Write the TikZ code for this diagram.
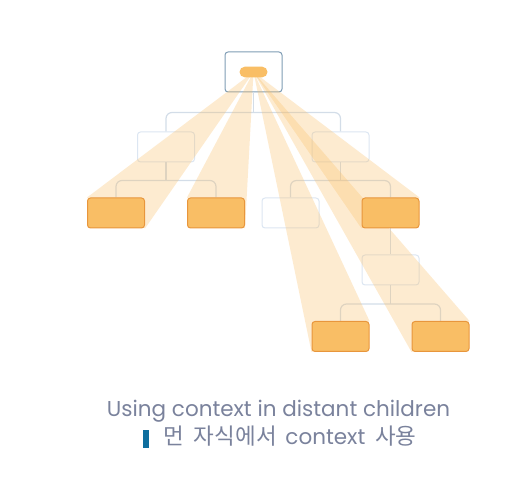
\documentclass[tikz,border=0pt]{standalone}
\usepackage{fontspec}
\setmainfont{Poppins}
\newfontfamily\krfont{Noto Sans CJK KR}
\usetikzlibrary{positioning}
\definecolor{boxline}{HTML}{DCE6F2}
\definecolor{linkline}{HTML}{D3DDE8}
\definecolor{rootline}{HTML}{7F9DB5}
\definecolor{hotfill}{HTML}{F9BE65}
\definecolor{hotline}{HTML}{E8963C}
\definecolor{captext}{HTML}{7A829C}
\definecolor{markblue}{HTML}{0E6E9E}
\pgfdeclarelayer{back}
\pgfdeclarelayer{glow}
\pgfsetlayers{back,glow,main}

\begin{document}
\begin{tikzpicture}[x=1pt,y=1pt,on grid,
    box/.style={draw=boxline,line width=1pt,rounded corners=3pt,fill=white,minimum width=57pt,minimum height=30pt},
    hot/.style={box,draw=hotline,fill=hotfill},
    link/.style={draw=linkline,line width=1.2pt,rounded corners=6pt},
    beam/.style={fill=hotfill,fill opacity=0.3}]
  \useasboundingbox (0,0) rectangle (523,501);
  \begin{pgfonlayer}{back}
    \node[box,draw=rootline,minimum height=40pt](root) at (253.5,429){};
    \node[box](a_1)[below left=75pt and 87.5pt of root]{};
    \node[box](a_2)[below right=75pt and 87pt of root]{};
    \node[box](b_3)[below left=66pt and 50pt of a_2]{};
  \end{pgfonlayer}
  \node[fill=hotfill,rounded corners=5.3pt,minimum width=28pt,minimum height=10.6pt,inner sep=0pt](src) at (root.center){};
  \node[hot](b_1)[below left=66pt and 50pt of a_1]{};
  \node[hot](b_2)[below right=66pt and 50pt of a_1]{};
  \node[hot](b_4)[below right=66pt and 50pt of a_2]{};
  \begin{pgfonlayer}{back}
    \node[box](m_1)[below=57pt of b_4]{};
  \end{pgfonlayer}
  \node[hot](d_1)[below left=66.5pt and 50pt of m_1]{};
  \node[hot](d_2)[below right=66.5pt and 50pt of m_1]{};
  \begin{pgfonlayer}{back}
    \draw[link] (root.south) -- ++(0,-20) coordinate (j_0);
    \draw[link] (a_1.north) |- (j_0) -| (a_2.north);
    \draw[link] (a_1.south) -- ++(0,-18) coordinate (j_1);
    \draw[link] (b_1.north) |- (j_1) -| (b_2.north);
    \draw[link] (a_2.south) -- ++(0,-18) coordinate (j_2);
    \draw[link] (b_3.north) |- (j_2) -| (b_4.north);
    \draw[link] (b_4.south) -- (m_1.north);
    \draw[link] (m_1.south) -- ++(0,-18.5) coordinate (j_3);
    \draw[link] (d_1.north) |- (j_3) -| (d_2.north);
  \end{pgfonlayer}
  \begin{pgfonlayer}{glow}
    \fill[beam] (src.center) -- (b_1.north west) -- (b_1.south east) -- cycle;
    \fill[beam] (src.center) -- (b_2.north west) -- (b_2.south east) -- cycle;
    \fill[beam] (src.center) -- (b_4.north east) -- (b_4.south west) -- cycle;
    \fill[beam] (src.center) -- (d_1.north east) -- (d_1.south west) -- cycle;
    \fill[beam] (src.center) -- (d_2.north east) -- (d_2.south west) -- cycle;
  \end{pgfonlayer}
  \node[text=captext,font=\fontsize{21.5}{24}\selectfont,anchor=base](cap_1) at (278.5,84){Using context in distant children};
  \node[text=captext,font=\fontsize{21.5}{24}\selectfont,anchor=base west,inner xsep=0pt](cap_2) at (163,56){{\krfont\fontsize{22.5}{24}\selectfont 먼\hspace{5pt} 자식에서}\hspace{3pt} context\hspace{4pt} {\krfont\fontsize{22.5}{24}\selectfont 사용}};
  \node[fill=markblue,minimum width=6pt,minimum height=17.7pt,inner sep=0pt](mark) at (146,62.2){};
\end{tikzpicture}
\end{document}
